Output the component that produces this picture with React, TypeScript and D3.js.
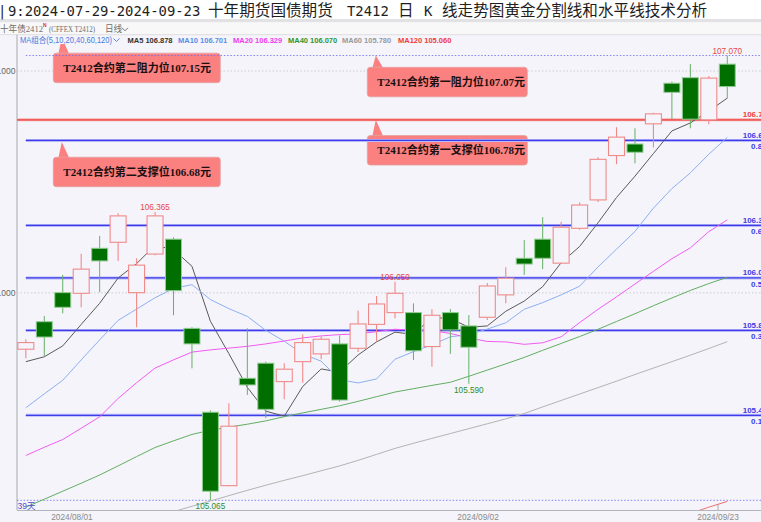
import React from 'react';
import * as d3 from 'd3';

// Trading days of contract T2412, 2024-07-29 .. 2024-09-23
const dates = [
  '2024/07/29', '2024/07/30', '2024/07/31', '2024/08/01', '2024/08/02',
  '2024/08/05', '2024/08/06', '2024/08/07', '2024/08/08', '2024/08/09',
  '2024/08/12', '2024/08/13', '2024/08/14', '2024/08/15', '2024/08/16',
  '2024/08/19', '2024/08/20', '2024/08/21', '2024/08/22', '2024/08/23',
  '2024/08/26', '2024/08/27', '2024/08/28', '2024/08/29', '2024/08/30',
  '2024/09/02', '2024/09/03', '2024/09/04', '2024/09/05', '2024/09/06',
  '2024/09/09', '2024/09/10', '2024/09/11', '2024/09/12', '2024/09/13',
  '2024/09/18', '2024/09/19', '2024/09/20', '2024/09/23',
];

const opens = [
  105.746, 105.870, 106.001, 105.998, 106.201, 106.228, 106.001, 106.175, 106.242, 105.840,
  105.462, 105.131, 105.615, 105.683, 105.600, 105.690, 105.725, 105.770, 105.750, 105.858,
  105.911, 105.911, 105.758, 105.911, 105.851, 105.890, 105.991, 106.156, 106.242, 106.134,
  106.291, 106.419, 106.619, 106.671, 106.762, 106.945, 106.970, 106.780, 107.031,
];
const highs = [
  105.791, 105.896, 106.081, 106.176, 106.257, 106.359, 106.156, 106.365, 106.250, 105.845,
  105.470, 105.502, 105.840, 105.690, 105.683, 105.813, 105.803, 105.809, 105.920, 105.986,
  106.050, 105.953, 105.926, 105.927, 105.900, 106.045, 106.116, 106.238, 106.341, 106.321,
  106.407, 106.611, 106.747, 106.742, 106.812, 106.952, 107.032, 106.978, 107.070,
];
const lows = [
  105.705, 105.716, 105.908, 105.935, 106.003, 106.144, 105.845, 106.170, 105.899, 105.660,
  105.065, 105.128, 105.540, 105.435, 105.520, 105.595, 105.701, 105.510, 105.734, 105.780,
  105.886, 105.697, 105.667, 105.725, 105.590, 105.878, 105.953, 106.081, 106.107, 106.130,
  106.285, 106.410, 106.580, 106.584, 106.655, 106.783, 106.742, 106.760, 106.877,
];
const closes = [
  105.776, 105.801, 105.935, 106.107, 106.144, 106.347, 106.125, 106.347, 106.010, 105.770,
  105.106, 105.399, 105.585, 105.475, 105.656, 105.776, 105.791, 105.517, 105.860, 105.950,
  105.998, 105.739, 105.899, 105.833, 105.755, 106.031, 106.066, 106.130, 106.156, 106.296,
  106.396, 106.602, 106.702, 106.634, 106.807, 106.904, 106.783, 106.968, 106.930,
];

// Moving averages (null = outside the visible history)
const ma5 = [
  105.690, 105.712, 105.761, 105.858, 105.953, 106.067, 106.132, 106.214, 106.195, 106.120,
  105.872, 105.726, 105.574, 105.467, 105.444, 105.578, 105.657, 105.643, 105.720, 105.779,
  105.823, 105.813, 105.889, 105.884, 105.845, 105.851, 105.917, 105.963, 106.028, 106.136,
  106.209, 106.316, 106.430, 106.526, 106.628, 106.730, 106.766, 106.819, 106.878,
];
const ma10 = [
  105.482, 105.545, 105.606, 105.698, 105.788, 105.876, 105.927, 105.978, 106.020, 106.037,
  105.970, 105.929, 105.894, 105.831, 105.782, 105.725, 105.692, 105.609, 105.594, 105.612,
  105.701, 105.735, 105.766, 105.802, 105.812, 105.837, 105.865, 105.926, 105.956, 105.991,
  106.030, 106.117, 106.197, 106.277, 106.382, 106.470, 106.541, 106.625, 106.701,
];
const ma20 = [
  105.267, 105.304, 105.339, 105.390, 105.441, 105.524, 105.595, 105.661, 105.698, 105.733,
  105.743, 105.751, 105.759, 105.770, 105.783, 105.797, 105.806, 105.812, 105.815, 105.825,
  105.836, 105.832, 105.830, 105.817, 105.797, 105.781, 105.779, 105.768, 105.775, 105.802,
  105.866, 105.926, 105.982, 106.040, 106.097, 106.154, 106.203, 106.276, 106.329,
];
const ma40 = [
  105.034, 105.070, 105.106, 105.142, 105.179, 105.220, 105.262, 105.303, 105.333, 105.362,
  105.381, 105.395, 105.408, 105.423, 105.442, 105.459, 105.475, 105.491, 105.511, 105.532,
  105.553, 105.568, 105.583, 105.597, 105.624, 105.652, 105.680, 105.709, 105.741, 105.772,
  105.803, 105.836, 105.871, 105.906, 105.942, 105.977, 106.011, 106.042, 106.070,
];
const ma60 = [
  null, null, null, null, null, null, null, 104.990, 105.014, 105.038,
  105.062, 105.086, 105.110, 105.133, 105.155, 105.176, 105.198, 105.220, 105.245, 105.272,
  105.299, 105.322, 105.344, 105.366, 105.388, 105.410, 105.432, 105.456, 105.486, 105.515,
  105.544, 105.573, 105.602, 105.632, 105.661, 105.690, 105.719, 105.749, 105.780,
];
const ma120 = [
  null, null, null, null, null, null, null, null, null, null,
  null, null, null, null, null, null, null, null, null, null,
  null, null, null, null, null, null, null, null, null, null,
  null, null, null, null, null, 104.978, 105.006, 105.034, 105.060,
];

const maNames = ['MA5', 'MA10', 'MA20', 'MA40', 'MA60', 'MA120'];
const maSeries = [ma5, ma10, ma20, ma40, ma60, ma120];
const maColors = ['#5a5a5a', '#8db0f2', '#f25cf2', '#62ae62', '#b4b4b4', '#f07070'];
const maLegendColors = ['#333333', '#5b8ee6', '#f03cf0', '#2f962f', '#9a9a9a', '#f03c3c'];
const maLegendX = [127.5, 178, 233, 288, 342, 398];

const fibRatios = [0, 0.191, 0.382, 0.5, 0.618, 0.809, 1];
const gridPrices = [106, 107];
const axisDates = ['2024/08/01', '2024/09/02', '2024/09/23'];
const highMarks = [7, 20, 38];
const lowMarks = [10, 24];

const supportLine = 106.78;
const callouts = [
  { text: 'T2412合约第二阻力位107.15元', price: 107.15, left: 53.3, drop: 15.4, width: 167 },
  { text: 'T2412合约第一阻力位107.07元', price: 107.07, left: 367.3, drop: 11.8, width: 160 },
  { text: 'T2412合约第一支撑位106.78元', price: 106.78, left: 367.3, drop: 15.7, width: 160 },
  { text: 'T2412合约第二支撑位106.68元', price: 106.68, left: 53.3, drop: 15.2, width: 167 },
];

const titleParts = [
  { t: '|', x: -2, cjk: false },
  { t: '9:2024-07-29-2024-09-23', x: 8, cjk: false },
  { t: '十年期货国债期货', x: 208, cjk: true },
  { t: 'T2412', x: 347, cjk: false },
  { t: '日', x: 398, cjk: true },
  { t: 'K', x: 424, cjk: false },
  { t: '线走势图黄金分割线和水平线技术分析', x: 442, cjk: true },
];

const W = 761;
const H = 522;
const plot = { left: 17, right: 761, top: 44, bottom: 510 };
const BG = '#f4f4fa';
const UP = '#f08a8a';
const DOWN = '#006f00';
const SANS = "'Liberation Sans', Arial, sans-serif";
const SANS_CJK = "'Liberation Sans', 'Noto Sans CJK SC', sans-serif";
const CJK = "'Noto Sans CJK SC', sans-serif";
const SERIF_CJK = "'Liberation Serif', 'Noto Sans CJK SC', serif";

function Chevron({ x, y, color }: { x: number; y: number; color: string }) {
  return (
    <path d={`M${x},${y} L${x + 3},${y + 3} L${x + 6},${y}`} fill="none" stroke={color} strokeWidth={0.9} />
  );
}

export default function App() {
  const idx = d3.range(dates.length);
  const x = d3.scaleBand<number>().domain(idx).range([16.6, 736.5]).paddingInner(0.08).paddingOuter(0.04);
  const bw = x.bandwidth();
  const step = x.step();
  const cx = (i: number) => (x(i) as number) + bw / 2;

  const lo = d3.min(lows) as number;
  const hi = d3.max(highs) as number;
  const y = d3.scaleLinear().domain([lo, hi]).range([500.3, 55.5]);

  const line = d3
    .line<number | null>()
    .defined((d) => d != null)
    .x((_, i) => cx(i))
    .y((d) => y(d as number));

  const fibStart = cx(0);

  return (
    <svg width={W} height={H} style={{ position: 'absolute', left: 0, top: 0 }} xmlns="http://www.w3.org/2000/svg">
      <defs>
        <clipPath id="plotClip">
          <rect x={plot.left} y={plot.top} width={plot.right - plot.left} height={plot.bottom - plot.top} />
        </clipPath>
      </defs>
      <rect x={0} y={0} width={W} height={H} fill={BG} />

      {/* title band */}
      <rect x={0} y={0} width={W} height={19} fill="#ffffff" />
      <rect x={0} y={19} width={W} height={3.3} fill="#e2e2e4" />
      <rect x={0} y={22.3} width={W} height={12.4} fill="#f8f8f8" />
      <line x1={0} x2={W} y1={34.7} y2={34.7} stroke="#dedee2" strokeWidth={1} />
      {titleParts.map((p, i) => (
        <text
          key={i}
          x={p.x}
          y={15.5}
          fontFamily={p.cjk ? CJK : "'DejaVu Sans Mono', monospace"}
          fontSize={p.cjk ? 15.6 : 13.9}
          fill="#1e1e1e"
        >
          {p.t}
        </text>
      ))}

      {/* instrument header */}
      <g fontFamily={SERIF_CJK} fontSize={8.6} fill="#6e6e6e">
        <text x={0} y={31.5}>十年债2412</text>
        <text x={43} y={27} fontSize={5} fill="#e03030" fontFamily={SANS} fontWeight="bold">N</text>
        <text x={49} y={31.5} textLength={46} lengthAdjust="spacingAndGlyphs">(CFFEX  T2412)</text>
        <text x={105} y={31.5}>日线</text>
      </g>
      <Chevron x={122} y={27.8} color="#666" />

      {/* moving-average legend */}
      <text x={20} y={42.6} fontFamily={SANS_CJK} fontSize={8.2} fill="#4a7be0" textLength={92} lengthAdjust="spacingAndGlyphs">
        MA组合(5,10,20,40,60,120)
      </text>
      <Chevron x={113.5} y={38.5} color="#4a7be0" />
      {maNames.map((n, k) => (
        <text key={n} x={maLegendX[k]} y={42.6} fontFamily={SANS} fontSize={7.5} fontWeight="bold" fill={maLegendColors[k]}>
          {`${n} ${(maSeries[k][maSeries[k].length - 1] as number).toFixed(3)}`}
        </text>
      ))}

      {/* axes */}
      <line x1={plot.left} x2={plot.left} y1={34.7} y2={plot.bottom} stroke="#a8a8b0" strokeWidth={1} />
      <line x1={plot.left} x2={W} y1={plot.bottom + 0.5} y2={plot.bottom + 0.5} stroke="#b4b4bc" strokeWidth={1} />
      {gridPrices.map((p) => (
        <g key={p}>
          <line x1={plot.left} x2={W} y1={y(p)} y2={y(p)} stroke="#c4c4cc" strokeWidth={0.8} strokeDasharray="1.5 2" />
          <text x={15.5} y={y(p) + 3} textAnchor="end" fontFamily={SANS} fontSize={8.5} fill="#666">
            {p.toFixed(3)}
          </text>
        </g>
      ))}
      {axisDates.map((d) => {
        const i = dates.indexOf(d);
        const tx = cx(i) - step / 2;
        return (
          <text key={d} x={tx} y={519.5} textAnchor="middle" fontFamily={SANS} fontSize={8.3} fill="#8a8a8a">
            {d}
          </text>
        );
      })}
      <line
        x1={cx(dates.length - 1) - step / 2}
        x2={cx(dates.length - 1) - step / 2}
        y1={plot.bottom - 6}
        y2={plot.bottom}
        stroke="#9a9aa0"
        strokeWidth={0.8}
      />

      <g clipPath="url(#plotClip)">
        {/* callouts */}
        {callouts.map((c, k) => {
          const apex = y(c.price);
          const top = apex + c.drop;
          const h = 29.5;
          return (
            <g key={k}>
              <path
                d={`M${c.left + 5},${top + 1} L${c.left + 8.5},${apex} L${c.left + 16},${top + 1} Z`}
                fill="#fb8080"
              />
              <rect x={c.left} y={top} width={c.width} height={h} rx={3} fill="#fb8080" stroke="#e2a2a2" strokeWidth={0.8} />
              <text x={c.left + 10} y={top + h / 2 + 4} fontFamily={SERIF_CJK} fontSize={11} fontWeight={600} fill="#1a1010">
                {c.text}
              </text>
            </g>
          );
        })}

        {/* golden-section levels */}
        {fibRatios.map((r) => {
          const v = lo + r * (hi - lo);
          const yy = y(v);
          if (r === 0 || r === 1) {
            return (
              <line key={r} x1={r === 0 ? plot.left : fibStart} x2={W} y1={yy} y2={yy} stroke="#6a6af4" strokeWidth={0.8} strokeDasharray="1.5 1.8" />
            );
          }
          return (
            <g key={r}>
              <line x1={fibStart} x2={W} y1={yy} y2={yy} stroke="#b8b8fa" strokeWidth={3} />
              <line x1={fibStart} x2={W} y1={yy} y2={yy} stroke="#3c3ce8" strokeWidth={1.3} />
            </g>
          );
        })}

        {/* horizontal support line */}
        <line x1={plot.left} x2={W} y1={y(supportLine)} y2={y(supportLine)} stroke="#f7b0b0" strokeWidth={3} />
        <line x1={plot.left} x2={W} y1={y(supportLine)} y2={y(supportLine)} stroke="#ef5d5d" strokeWidth={1.6} />

        {/* moving averages */}
        {maSeries.map((s, k) => (
          <path key={k} d={line(s) as string} fill="none" stroke={maColors[k]} strokeWidth={1} />
        ))}

        {/* candlesticks */}
        {idx.map((i) => {
          const o = opens[i];
          const c = closes[i];
          const up = c >= o;
          const xc = cx(i);
          const yTop = y(Math.max(o, c));
          const yBot = y(Math.min(o, c));
          const bodyH = Math.max(1, yBot - yTop);
          if (up) {
            return (
              <g key={i} stroke={UP} strokeWidth={1.1}>
                <line x1={xc} x2={xc} y1={y(highs[i])} y2={yTop} />
                <line x1={xc} x2={xc} y1={yBot} y2={y(lows[i])} />
                <rect x={(x(i) as number) + 0.5} y={yTop} width={bw - 1} height={bodyH} fill={BG} />
              </g>
            );
          }
          return (
            <g key={i}>
              <line x1={xc} x2={xc} y1={y(highs[i])} y2={y(lows[i])} stroke="#66b066" strokeWidth={1} />
              <rect x={(x(i) as number) + 0.5} y={yTop} width={bw - 1} height={bodyH} fill={DOWN} stroke="#92cc92" strokeWidth={1} />
            </g>
          );
        })}

        {/* extreme price labels */}
        {highMarks.map((i) => (
          <text key={`h${i}`} x={cx(i)} y={y(highs[i]) - 2} textAnchor="middle" fontFamily={SANS} fontSize={8.2} fill="#e84848">
            {highs[i].toFixed(3)}
          </text>
        ))}
        {lowMarks.map((i) => (
          <text key={`l${i}`} x={cx(i)} y={y(lows[i]) + 9} textAnchor="middle" fontFamily={SANS} fontSize={8.2} fill="#2e8e2e">
            {lows[i].toFixed(3)}
          </text>
        ))}

        <text x={17.5} y={508.5} fontFamily={SANS_CJK} fontSize={8.5} fill="#5050c8">
          {`${dates.length}天`}
        </text>
      </g>

      {/* right-edge level labels */}
      <text x={742.7} y={y(supportLine) - 2.5} fontFamily={SANS} fontSize={8} fontWeight="bold" fill="#ef4040">
        {supportLine.toFixed(3)}
      </text>
      {fibRatios
        .filter((r) => r > 0 && r < 1)
        .map((r) => {
          const v = lo + r * (hi - lo);
          const yy = y(v);
          return (
            <g key={r} fontFamily={SANS} fontSize={8} fontWeight="bold" fill="#3c3ce8">
              <text x={742.7} y={yy - 2.5}>{v.toFixed(3)}</text>
              <text x={751} y={yy + 9}>{r.toFixed(3)}</text>
            </g>
          );
        })}
    </svg>
  );
}
